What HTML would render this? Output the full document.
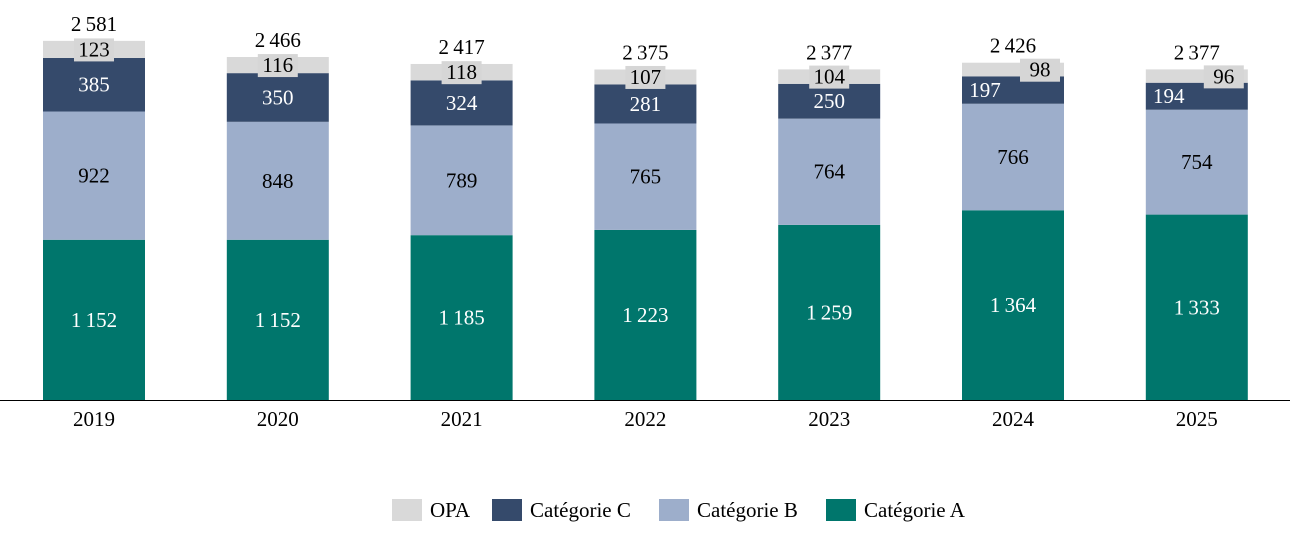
<!DOCTYPE html>
<html><head><meta charset="utf-8"><style>
html,body{margin:0;padding:0;background:#fff;width:1290px;height:537px;overflow:hidden}
svg text{font-family:"Liberation Serif",serif;font-size:21px}
</style></head><body>
<svg id="chart" width="1290" height="537" viewBox="0 0 1290 537"></svg>
<script>
const years=["2019","2020","2021","2022","2023","2024","2025"];
const catA=[1152,1152,1185,1223,1259,1364,1333];
const catB=[922,848,789,765,764,766,754];
const catC=[385,350,324,281,250,197,194];
const opa=[123,116,118,107,104,98,96];
const totals=[2581,2466,2417,2375,2377,2426,2377];
const svg=document.getElementById('chart');
const NS="http://www.w3.org/2000/svg";
const baseY=400, scale=359/2581, x0=94, step=183.8, bw=102;
const xC=i=>x0+i*step;
const yV=v=>baseY-v*scale;
function mk(tag,attrs,parent){const e=document.createElementNS(NS,tag);for(const k in attrs)e.setAttribute(k,attrs[k]);(parent||svg).appendChild(e);return e;}
function fmt(v){const s=String(v);return s.length>3?s.slice(0,s.length-3)+"\u202F"+s.slice(-3):s;}
const series=[{vals:catA,col:"#00766c",tc:"#fff",n:"cat-a"},{vals:catB,col:"#9daecb",tc:"#000",n:"cat-b"},{vals:catC,col:"#354a6b",tc:"#fff",n:"cat-c"},{vals:opa,col:"#d9d9d9",tc:"#000",n:"opa"}];
years.forEach((y,i)=>{
  let cum=0;
  series.forEach((s,si)=>{
    const v=s.vals[i];const top=yV(cum+v),bot=yV(cum);
    const r=mk('rect',{x:xC(i)-bw/2,y:top,width:bw,height:bot-top,fill:s.col});
    
    
    let lx=xC(i),ly=(top+bot)/2+7;
    const small=(i>=5);
    if(si===2&&small){lx=xC(i)-28;}
    if(si===3){
      if(small){lx=xC(i)+27;ly=top+14;}
      const bg=mk('rect',{x:lx-20,y:ly-18,width:40,height:23,fill:"#d6d6d6"});
      
      
    }
    const t=mk('text',{x:lx,y:ly,'text-anchor':'middle',fill:s.tc});
    t.textContent=fmt(v);
    
    
    cum+=v;
  });
  const tt=mk('text',{x:xC(i),y:yV(totals[i])-10,'text-anchor':'middle',fill:"#000"});
  tt.textContent=fmt(totals[i]);
  
  
  const xl=mk('text',{x:xC(i),y:426,'text-anchor':'middle',fill:"#000"});
  xl.textContent=y;
  
  
});
const ax=mk('line',{x1:0,x2:1290,y1:baseY+0.5,y2:baseY+0.5,stroke:"#000","stroke-width":1});


const leg=[["OPA","#d9d9d9",392],["Catégorie C","#354a6b",492],["Catégorie B","#9daecb",659],["Catégorie A","#00766c",826]];
leg.forEach(l=>{
  const g=mk('g',{});
  
  
  mk('rect',{x:l[2],y:499,width:30,height:22,fill:l[1]},g);
  const t=mk('text',{x:l[2]+38,y:517,fill:"#000"},g);t.textContent=l[0];
});
</script>
</body></html>
